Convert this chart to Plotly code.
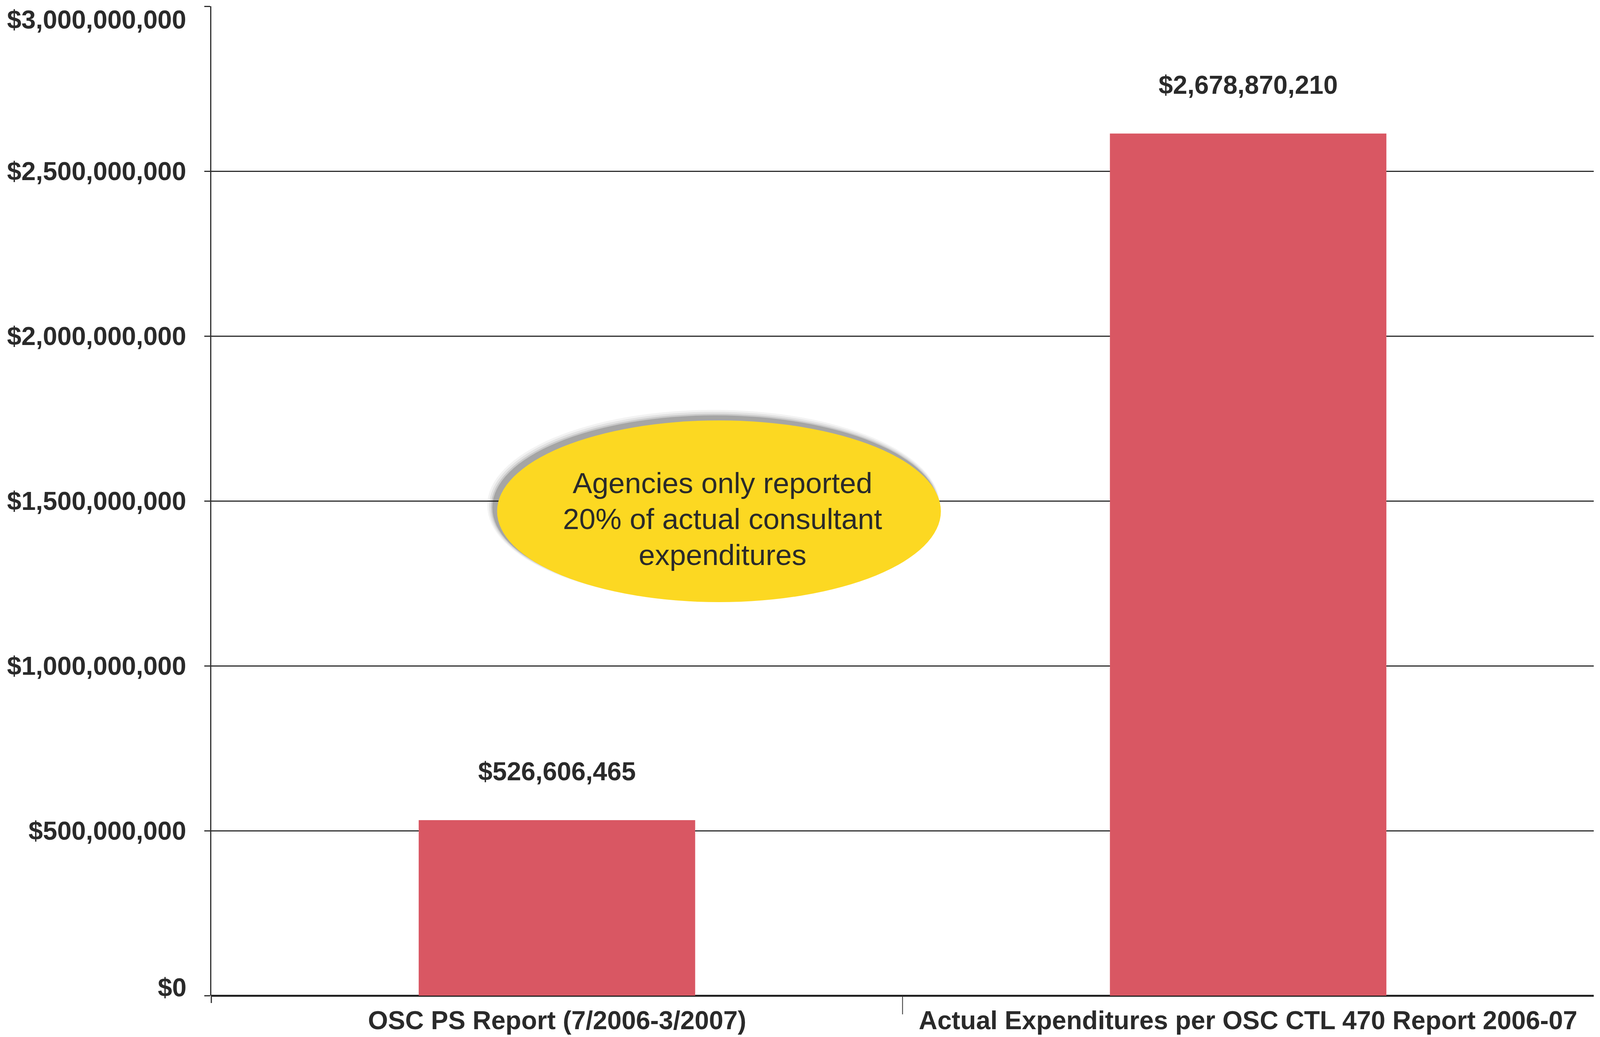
import plotly.graph_objects as go

# ---- data ----
categories = ["OSC PS Report (7/2006-3/2007)",
              "Actual Expenditures per OSC CTL 470 Report 2006-07"]
bar_values = [532_000_000, 2_614_000_000]          # bar heights as drawn
bar_labels = ["$526,606,465", "$2,678,870,210"]      # printed value labels
y_ticks = [0, 500_000_000, 1_000_000_000, 1_500_000_000,
           2_000_000_000, 2_500_000_000, 3_000_000_000]
y_tick_labels = ["$0", "$500,000,000", "$1,000,000,000", "$1,500,000,000",
                 "$2,000,000,000", "$2,500,000,000", "$3,000,000,000"]
callout_lines = ["Agencies only reported", "20% of actual consultant", "expenditures"]

# ---- layout geometry ----
# The page is viewed in a 4096 px wide viewport with an 8 px body margin;
# reference coordinates (4384 wide) are mapped proportionally.
REF_W = 4384
VIEW_W, VIEW_H = 4096, 2654
SX = VIEW_W / REF_W
BODY = 8
W, H = VIEW_W - BODY, VIEW_H - BODY

def fx(X):
    return X * SX - BODY

def fy(Y):
    return Y - BODY

ML = round(fx(579))
MR = W - round(fx(4367))
MT = round(fy(16))
MB = H - round(fy(2548))
PW, PH = W - ML - MR, H - MT - MB

def px_x(X):
    return (fx(X) - ML) / PW

def px_y(Y):
    return (H - MB - fy(Y)) / PH

FONT = "Liberation Sans, Arial, Helvetica, sans-serif"
TXT = "#2a2a2a"
BAR = "#D95763"
YEL = "#FCD822"
GRID = "#2e2e2e"
FS = 66

fig = go.Figure()
fig.add_trace(go.Bar(x=categories, y=bar_values, marker=dict(color=BAR, line=dict(width=0)),
                     width=0.4, hoverinfo="skip"))

annotations = []
# value labels above the bars
for c, v, lab in zip(categories, bar_values, bar_labels):
    annotations.append(dict(x=c, y=v, xref="x", yref="y", text=lab, showarrow=False,
                            yanchor="middle", yshift=125,
                            font=dict(family=FONT, size=FS, color=TXT, weight="bold")))
# y tick labels
for i, (t, lab) in enumerate(zip(y_ticks, y_tick_labels)):
    shift = 0
    if i == 0:
        shift = 21
    elif i == len(y_ticks) - 1:
        shift = -34
    annotations.append(dict(x=0, y=t, xref="paper", yref="y", text=lab, showarrow=False,
                            xanchor="right", yanchor="middle", xshift=-62, yshift=shift,
                            font=dict(family=FONT, size=FS, color=TXT, weight="bold")))
# category labels
for c in categories:
    annotations.append(dict(x=c, y=px_y(2611), xref="x", yref="paper", text=c, showarrow=False,
                            xanchor="center", yanchor="middle",
                            font=dict(family=FONT, size=FS, color=TXT, weight="bold")))
# callout text
for line, py in zip(callout_lines, [1236, 1328, 1420]):
    annotations.append(dict(x=px_x(1980), y=px_y(py), xref="paper", yref="paper", text=line,
                            showarrow=False, xanchor="center", yanchor="middle",
                            font=dict(family=FONT, size=75, color=TXT)))

shapes = []
# soft shadow of the callout ellipse (up-left)
ex0, ex1, ey0, ey1 = 1362, 2578, 1076, 1541
for k, op in [(20, 0.05), (15, 0.08), (10, 0.12), (6, 0.2)]:
    off = 7
    shapes.append(dict(type="circle", xref="paper", yref="paper",
                       x0=px_x(ex0 - off - k), x1=px_x(ex1 - off + k * 0.2),
                       y0=px_y(ey1 - off + k * 0.2), y1=px_y(ey0 - off - k),
                       fillcolor="#1a1a1a", opacity=op, line=dict(width=0), layer="above"))
shapes.append(dict(type="circle", xref="paper", yref="paper",
                   x0=px_x(ex0), x1=px_x(ex1), y0=px_y(ey1), y1=px_y(ey0),
                   fillcolor=YEL, line=dict(width=0), layer="above"))
# category divider tick and short axis extension below zero
shapes.append(dict(type="line", xref="paper", yref="paper", x0=0.5, x1=0.5,
                   y0=0, y1=-48 / PH, line=dict(color=GRID, width=2)))
shapes.append(dict(type="line", xref="paper", yref="paper", x0=0, x1=0,
                   y0=0, y1=-19 / PH, line=dict(color=GRID, width=3)))

fig.update_layout(
    width=W, height=H,
    margin=dict(l=ML, r=MR, t=MT, b=MB, pad=0),
    paper_bgcolor="white", plot_bgcolor="white",
    showlegend=False,
    annotations=annotations,
    shapes=shapes,
    xaxis=dict(type="category", range=[-0.5, 1.5], showticklabels=False, ticks="",
               showgrid=False, showline=False, zeroline=False, fixedrange=True),
    yaxis=dict(range=[0, 3_000_000_000], tickvals=y_ticks, showticklabels=False,
               ticks="outside", ticklen=15, tickwidth=3, tickcolor=GRID,
               showgrid=True, gridcolor=GRID, gridwidth=3,
               zeroline=True, zerolinecolor="#222222", zerolinewidth=5,
               showline=True, linecolor=GRID, linewidth=3, fixedrange=True),
)

fig.write_html("out.html")
